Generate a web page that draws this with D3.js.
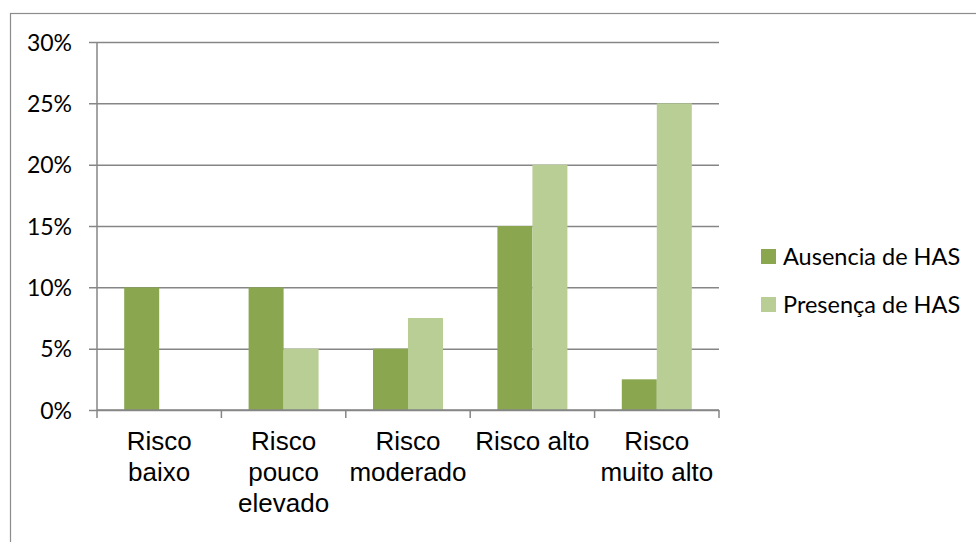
<!DOCTYPE html>
<html>
<head>
<meta charset="utf-8">
<script src="https://cdn.jsdelivr.net/npm/d3@7"></script>
<style>
  html, body { margin: 0; padding: 0; background: #fff; }
  svg { display: block; }
</style>
</head>
<body>
<svg id="chart" width="976" height="542"></svg>
<script>
// Risk categories (label lines as wrapped under the axis)
const categories = ["Risco baixo", "Risco pouco elevado", "Risco moderado", "Risco alto", "Risco muito alto"];
const categoryLines = [["Risco", "baixo"], ["Risco", "pouco", "elevado"], ["Risco", "moderado"], ["Risco alto"], ["Risco", "muito alto"]];
const seriesNames = ["Ausencia de HAS", "Presença de HAS"];
const ausencia = [10, 10, 5, 15, 2.5];
const presenca = [0, 5, 7.5, 20, 25];
const yTicks = [0, 5, 10, 15, 20, 25, 30];
const seriesColors = ["#8aa64f", "#b9ce95"];

const svg = d3.select("#chart");
const plot = { left: 97, right: 719, top: 42, bottom: 410 };
const gridColor = "#868686";
const labelFont = "Lato, 'Open Sans', sans-serif";

// Outer chart frame (only top and left edges fall inside the page)
svg.append("rect")
  .attr("x", 10.5).attr("y", 13.5)
  .attr("width", 1000).attr("height", 600)
  .attr("fill", "none").attr("stroke", "#8c8c8c").attr("stroke-width", 1.2);

const x0 = d3.scaleBand().domain(categories).range([plot.left, plot.right]).paddingInner(0).paddingOuter(0);
const x1 = d3.scaleBand().domain(seriesNames).range([0, x0.bandwidth()]).paddingInner(0).paddingOuter(0.777);
const y = d3.scaleLinear().domain([0, 30]).range([plot.bottom, plot.top]);

// Horizontal gridlines with their left tick stubs
const yAxis = d3.axisLeft(y).tickValues(yTicks).tickFormat(d => d + "%")
  .tickSize(-(plot.right - plot.left)).tickPadding(0);
const gy = svg.append("g").attr("transform", `translate(${plot.left},0)`).call(yAxis);
gy.select(".domain").remove();
gy.selectAll(".tick line").attr("stroke", gridColor).attr("stroke-width", 1.5).attr("x1", -8);
gy.selectAll(".tick text")
  .attr("x", -25)
  .attr("dy", "0.35em")
  .attr("fill", "#000")
  .style("font-family", labelFont)
  .style("font-size", "23px");

// Vertical axis line
svg.append("line")
  .attr("x1", plot.left).attr("x2", plot.left)
  .attr("y1", plot.top).attr("y2", plot.bottom)
  .attr("stroke", gridColor).attr("stroke-width", 1.5);

// Bars
const rows = categories.map((c, i) => ({ cat: c, values: [ausencia[i], presenca[i]] }));
const groups = svg.append("g").selectAll("g").data(rows).join("g")
  .attr("transform", d => `translate(${x0(d.cat)},0)`);
groups.selectAll("rect")
  .data(d => d.values.map((v, k) => ({ key: seriesNames[k], v, k })))
  .join("rect")
  .attr("x", d => x1(d.key))
  .attr("width", x1.bandwidth())
  .attr("y", d => y(d.v))
  .attr("height", d => y(0) - y(d.v))
  .attr("fill", d => seriesColors[d.k]);

// Category axis with boundary ticks
const xAxisG = svg.append("g");
xAxisG.append("line")
  .attr("x1", plot.left).attr("x2", plot.right)
  .attr("y1", plot.bottom).attr("y2", plot.bottom)
  .attr("stroke", gridColor).attr("stroke-width", 1.5);
const boundaries = categories.map(c => x0(c)).concat([x0(categories[categories.length - 1]) + x0.bandwidth()]);
xAxisG.selectAll("line.tk").data(boundaries).join("line")
  .attr("class", "tk")
  .attr("x1", d => d).attr("x2", d => d)
  .attr("y1", plot.bottom).attr("y2", plot.bottom + 8)
  .attr("stroke", gridColor).attr("stroke-width", 1.5);

const catLabels = svg.append("g").selectAll("text").data(categories).join("text")
  .attr("x", d => x0(d) + x0.bandwidth() / 2)
  .attr("y", 450)
  .attr("text-anchor", "middle")
  .attr("fill", "#000")
  .style("font-family", "'Liberation Sans', Arial, sans-serif")
  .style("font-size", "26px");
catLabels.selectAll("tspan").data((d, i) => categoryLines[i]).join("tspan")
  .attr("x", function () { return d3.select(this.parentNode).attr("x"); })
  .attr("dy", (d, j) => j === 0 ? 0 : 31)
  .text(d => d);

// Legend
const legend = svg.append("g").attr("transform", "translate(761,256.5)");
const items = legend.selectAll("g").data(seriesNames).join("g")
  .attr("transform", (d, i) => `translate(0,${i * 48})`);
items.append("rect")
  .attr("x", 0).attr("y", -7.5).attr("width", 15).attr("height", 15)
  .attr("fill", (d, i) => seriesColors[i]);
items.append("text")
  .attr("x", 22).attr("y", 0).attr("dy", "0.35em")
  .attr("fill", "#000")
  .style("font-family", labelFont)
  .style("font-size", "23.5px")
  .text(d => d);
</script>
</body>
</html>
